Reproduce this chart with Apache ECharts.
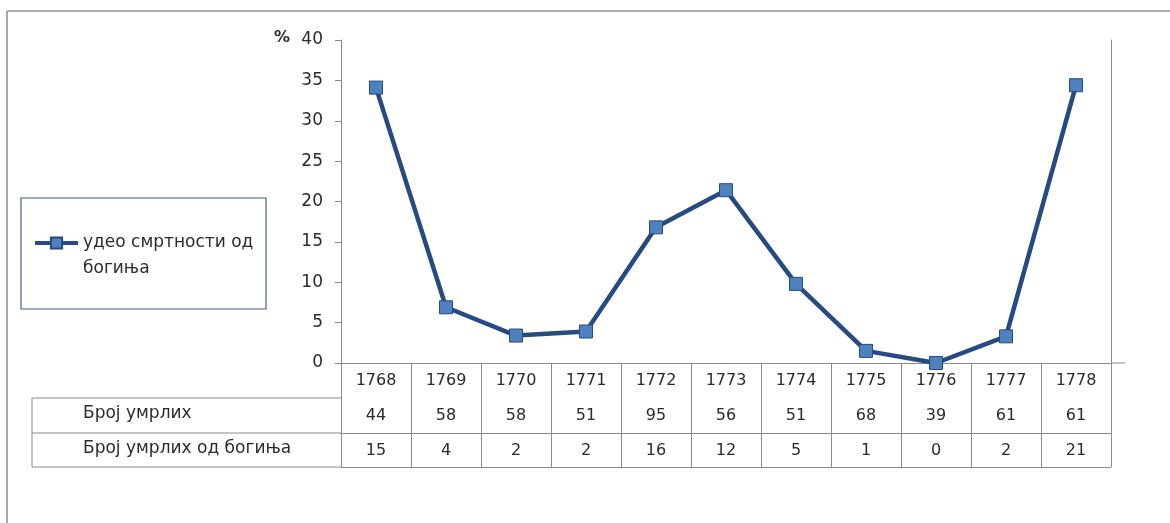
<!DOCTYPE html>
<html>
<head>
<meta charset="utf-8">
<script src="https://cdn.jsdelivr.net/npm/echarts@6/dist/echarts.min.js"></script>
<style>
  html, body { margin: 0; padding: 0; background: #fff; }
  #chart { width: 1170px; height: 523px; }
</style>
</head>
<body>
<div id="chart"></div>
<script>
// ---- data ----
const years = ['1768','1769','1770','1771','1772','1773','1774','1775','1776','1777','1778'];
const smallpoxShare = [34.1, 6.9, 3.4, 3.9, 16.8, 21.4, 9.8, 1.5, 0, 3.3, 34.4];
const deaths = [44, 58, 58, 51, 95, 56, 51, 68, 39, 61, 61];
const smallpoxDeaths = [15, 4, 2, 2, 16, 12, 5, 1, 0, 2, 21];
const seriesName = 'удео смртности од богиња';
const rowLabels = ['Број умрлих', 'Број умрлих од богиња'];
const yTicks = { min: 0, max: 40, interval: 5 };

const FONT = '"DejaVu Sans", "Noto Sans", sans-serif';
const TXT = '#2b2b2b';
const GRID_C = '#8a8a8a';

const chart = echarts.init(document.getElementById('chart'), null, { renderer: 'canvas' });

const gridLeft = 341, gridRight = 1111, gridTop = 40, gridBottom = 363;
const rowH = 35;

const tableAxis = (labels, offset, showLabel) => ({
  type: 'category',
  data: years,
  position: 'bottom',
  offset: offset,
  boundaryGap: true,
  axisLine: { show: true, lineStyle: { color: GRID_C, width: 1 } },
  axisTick: { show: false },
  axisLabel: {
    show: showLabel,
    interval: 0,
    margin: 10,
    fontFamily: FONT, fontSize: 16, color: TXT,
    formatter: (v, i) => String(labels[i])
  },
  splitLine: { show: false }
});

const option = {
  backgroundColor: '#fff',
  animation: false,
  grid: { left: gridLeft, right: 1170 - gridRight, top: gridTop, bottom: 523 - gridBottom, containLabel: false },
  legend: {
    show: true,
    left: 28, top: 199,
    orient: 'vertical',
    itemWidth: 43, itemHeight: 14, itemGap: 0,
    data: [seriesName],
    formatter: () => '\nудео смртности од\nбогиња',
    lineStyle: { width: 4 },
    textStyle: { fontFamily: FONT, fontSize: 17, color: TXT, lineHeight: 26 }
  },
  xAxis: [
    {
      type: 'category',
      data: years,
      position: 'bottom',
      boundaryGap: true,
      axisLine: { show: true, lineStyle: { color: GRID_C, width: 1 } },
      axisTick: { show: true, interval: 0, inside: false, length: rowH * 3 - 1, lineStyle: { color: GRID_C } },
      axisLabel: { interval: 0, margin: 10, fontFamily: FONT, fontSize: 16, color: TXT },
      splitLine: { show: false }
    },
    tableAxis(deaths, rowH, true),
    tableAxis(smallpoxDeaths, rowH * 2, true),
    tableAxis(years.map(() => ''), rowH * 3 - 1, false)
  ],
  yAxis: [
    {
      type: 'value',
      min: yTicks.min, max: yTicks.max, interval: yTicks.interval,
      axisLine: { show: true, lineStyle: { color: GRID_C } },
      axisTick: { show: true, inside: false, length: 6, lineStyle: { color: GRID_C } },
      axisLabel: { margin: 18, fontFamily: FONT, fontSize: 17, color: TXT },
      splitLine: { show: false }
    },
    {
      type: 'value', position: 'right',
      min: yTicks.min, max: yTicks.max, interval: yTicks.interval,
      axisLine: { show: true, lineStyle: { color: GRID_C } },
      axisTick: { show: false }, axisLabel: { show: false }, splitLine: { show: false }
    }
  ],
  series: [{
    name: seriesName,
    type: 'line',
    data: smallpoxShare,
    symbol: 'rect',
    symbolSize: 13,
    lineStyle: { color: '#264b82', width: 4.5 },
    itemStyle: { color: '#4f81bd', borderColor: '#264b82', borderWidth: 1 },
    z: 5
  }],
  graphic: []
};

chart.setOption(option);

// table frame for the left label column & decorations
const g = [];
const line = (x1, y1, x2, y2, w, c) => ({ type: 'line', shape: { x1, y1, x2, y2 }, style: { stroke: c || GRID_C, lineWidth: w || 1 }, silent: true });
const tLeft = 32;
const r1 = gridBottom + rowH, r2 = gridBottom + rowH * 2, r3 = gridBottom + rowH * 3 - 1;
g.push(line(tLeft, r1, gridLeft, r1));
g.push(line(tLeft, r2, gridLeft, r2));
g.push(line(tLeft, r3, gridLeft, r3));
g.push(line(tLeft, r1, tLeft, r3));
g.push(line(gridRight, gridBottom, 1125, gridBottom));
// outer chart border
g.push(line(7, 11, 1170, 11, 1.5, '#8f8f8f'));
g.push(line(7, 11, 7, 523, 1.5, '#8f8f8f'));
// legend box
g.push({ type: 'rect', shape: { x: 21, y: 198, width: 245, height: 111 }, style: { fill: 'none', stroke: '#3f5f8f', lineWidth: 1.2 }, silent: true });
// row labels
rowLabels.forEach((t, i) => {
  g.push({ type: 'text', left: 83, top: gridBottom + rowH * (i + 1) + 7, style: { text: t, font: '17px ' + FONT, fill: TXT } });
});
// % unit label
g.push({ type: 'text', left: 274, top: 30, style: { text: '%', font: 'bold 16px ' + FONT, fill: TXT } });

chart.setOption({ graphic: g });
</script>
</body>
</html>
